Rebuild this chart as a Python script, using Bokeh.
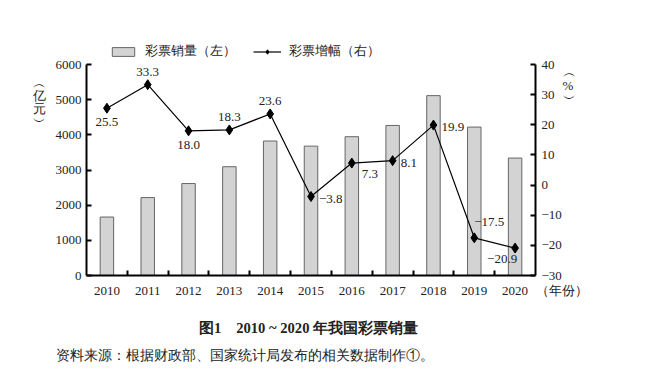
from bokeh.plotting import figure
from bokeh.models import (Range1d, LinearAxis, FixedTicker, Legend, LegendItem,
                          ColumnDataSource)
from bokeh.layouts import column
from bokeh.embed import file_html
from bokeh.resources import INLINE
from bokeh.core.properties import value

# ---- data ----
years = [2010, 2011, 2012, 2013, 2014, 2015, 2016, 2017, 2018, 2019, 2020]
sales = [1662.3, 2215.8, 2615.2, 3093.3, 3823.8, 3678.7, 3946.4, 4266.7, 5114.7, 4220.5, 3339.5]
growth = [25.5, 33.3, 18.0, 18.3, 23.6, -3.8, 7.3, 8.1, 19.9, -17.5, -20.9]
left_ticks = [0, 1000, 2000, 3000, 4000, 5000, 6000]
right_ticks = [-30, -20, -10, 0, 10, 20, 30, 40]
bar_name = "彩票销量（左）"
line_name = "彩票增幅（右）"
left_unit = "︵\n亿\n元\n︶"
right_unit = "︵\n%\n︶"
x_unit = "（年份）"
title_text = "图1　2010 ~ 2020 年我国彩票销量"
source_text = "资料来源：根据财政部、国家统计局发布的相关数据制作①。"

# label placement styles (screen offsets, not data)
place = {
    "below": dict(dx=0, dy=14, align="center"),
    "above": dict(dx=0, dy=-13, align="center"),
    "right": dict(dx=8, dy=2, align="left"),
    "right_down": dict(dx=10, dy=11, align="left"),
    "up_right": dict(dx=0, dy=-16, align="left"),
    "down_left": dict(dx=-28, dy=11, align="left"),
}
label_style = ["below", "above", "below", "above", "above", "right",
               "right_down", "right", "right", "up_right", "down_left"]

SERIF = "Liberation Serif"
FS = "13px"
TXT = "#222222"
BAR_FILL = "#d3d3d3"
BAR_LINE = "#666666"
W = 640
TOP_H, MAIN_H, BOT_H = 58, 242, 72


def fmt(v):
    s = f"{abs(v):.1f}"
    return ("−" + s) if v < 0 else s


def unalign(f):
    if "frame_align" in f.properties():
        f.frame_align = False


def blank(h):
    f = figure(width=W, height=h, output_backend="svg", toolbar_location=None,
               x_range=Range1d(0, W), y_range=Range1d(h, 0),
               x_axis_type=None, y_axis_type=None, min_border=0)
    f.xgrid.visible = False
    f.ygrid.visible = False
    f.outline_line_color = None
    unalign(f)
    return f


# ---------------- main chart ----------------
p = figure(width=W, height=MAIN_H, output_backend="svg", toolbar_location=None,
           x_range=Range1d(years[0] - 0.5, years[-1] + 0.5),
           y_range=Range1d(left_ticks[0], left_ticks[-1]),
           min_border_left=86, min_border_right=105, min_border_top=6,
           min_border_bottom=MAIN_H - 6 - 211)
unalign(p)
p.extra_y_ranges = {"pct": Range1d(right_ticks[0], right_ticks[-1])}
p.xgrid.visible = False
p.ygrid.visible = False
p.outline_line_color = None

p.vbar(x=years, top=sales, width=0.33, fill_color=BAR_FILL,
       line_color=BAR_LINE, line_width=1)

src = ColumnDataSource(dict(
    x=years, y=growth,
    t=[fmt(v) for v in growth],
    dx=[place[s]["dx"] for s in label_style],
    dy=[place[s]["dy"] for s in label_style],
    al=[place[s]["align"] for s in label_style],
))
p.line("x", "y", source=src, y_range_name="pct", line_color="black", line_width=1.2)
p.scatter("x", "y", source=src, y_range_name="pct", marker="diamond",
          size=10, fill_color="black", line_color="black")
p.text("x", "y", text="t", source=src, y_range_name="pct", x_offset="dx",
       y_offset="dy", text_align="al", text_baseline="middle",
       text_font=value(SERIF), text_font_size=FS, text_color=TXT)


def style_axis(ax):
    ax.axis_line_width = 2
    ax.axis_line_color = "black"
    ax.major_tick_line_width = 2
    ax.major_tick_line_color = "black"
    ax.minor_tick_line_width = 2
    ax.minor_tick_line_color = "black"
    ax.major_label_text_font = SERIF
    ax.major_label_text_font_size = FS
    ax.major_label_text_color = TXT


def unit_axis(range_name, pos, text, standoff, side):
    kw = {} if range_name is None else {"y_range_name": range_name}
    ax = LinearAxis(ticker=FixedTicker(ticks=[pos], minor_ticks=[]), **kw)
    ax.major_label_overrides = {pos: text}
    style_axis(ax)
    ax.axis_line_color = None
    ax.major_tick_line_color = None
    ax.major_tick_in = 0
    ax.major_tick_out = 0
    ax.major_label_standoff = standoff
    ax.major_label_text_line_height = 0.85
    p.add_layout(ax, side)


xa = p.xaxis[0]
unit_tick = years[-1] + 0.5
xa.ticker = FixedTicker(ticks=years + [unit_tick],
                        minor_ticks=[y + 0.5 for y in years[:-1]])
xa.major_label_overrides = {**{y: str(y) for y in years},
                            unit_tick: "\u3000\u3000\u3000\u3000" + x_unit}
style_axis(xa)
xa.major_tick_in = 0
xa.major_tick_out = 0
xa.minor_tick_in = 5
xa.minor_tick_out = 0
xa.major_label_standoff = 7

ya = p.yaxis[0]
ya.ticker = FixedTicker(ticks=left_ticks, minor_ticks=[])
style_axis(ya)
ya.major_tick_in = 5
ya.major_tick_out = 0
ya.major_label_standoff = 5

ra = LinearAxis(y_range_name="pct", ticker=FixedTicker(ticks=right_ticks, minor_ticks=[]))
ra.major_label_overrides = {t: fmt(t).replace(".0", "") for t in right_ticks}
style_axis(ra)
ra.major_tick_in = 5
ra.major_tick_out = 0
ra.major_label_standoff = 6
p.add_layout(ra, "right")

# unit labels as extra tickless axes (placed near the top of each axis)
unit_axis(None, 5900, left_unit, 7, "left")
unit_axis("pct", 37.5, right_unit, -2, "right")

# ---------------- legend strip ----------------
# legend proxies drawn from the real series (they fall outside this strip's ranges)
top = blank(TOP_H)
lb = top.vbar(x=years, top=sales, width=0.33, fill_color=BAR_FILL,
              line_color=BAR_LINE, line_width=1)
ll = top.line(x=years, y=growth, line_color="black", line_width=1.2)
lm = top.scatter(x=years, y=growth, marker="diamond", size=10,
                 fill_color="black", line_color="black")
legend = Legend(items=[LegendItem(label=bar_name, renderers=[lb]),
                       LegendItem(label=line_name, renderers=[ll, lm])],
                orientation="horizontal", location=(109, -2),
                label_text_font=SERIF, label_text_font_size=FS,
                label_text_color=TXT, glyph_width=28, glyph_height=11,
                label_height=12, label_standoff=8, spacing=17, padding=0, margin=0,
                border_line_color=None, background_fill_alpha=0)
top.add_layout(legend, "center")

# ---------------- caption strip ----------------
bot = blank(BOT_H)
bot.text(x=[308], y=[27], text=[title_text], text_align="center", text_baseline="middle",
         text_font=value(SERIF), text_font_size="14.6px", text_font_style="bold",
         text_color=TXT)
bot.text(x=[55], y=[55], text=[source_text], text_align="left", text_baseline="middle",
         text_font=value(SERIF), text_font_size="13.7px", text_color=TXT)

layout = column(top, p, bot, spacing=0)
open("out.html", "w").write(file_html(layout, INLINE))
